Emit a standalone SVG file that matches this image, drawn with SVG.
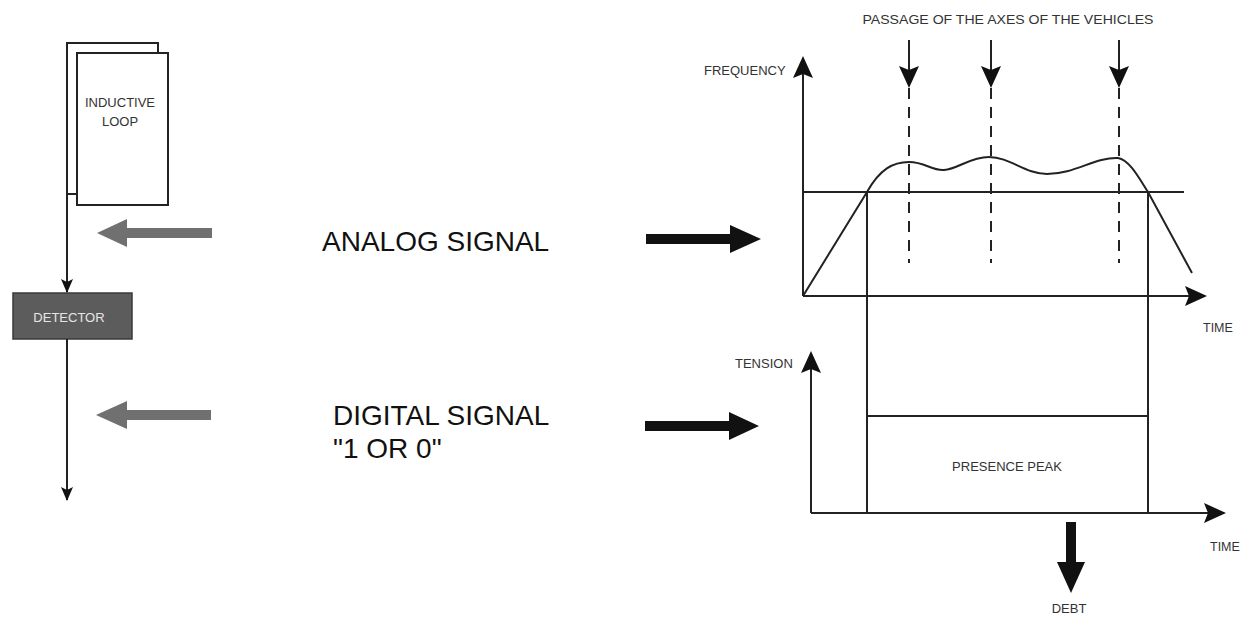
<svg xmlns="http://www.w3.org/2000/svg" width="1249" height="619" viewBox="0 0 1249 619">
<style>
  .ln{stroke:#222;stroke-width:2;fill:none}
  .dash{stroke:#222;stroke-width:2;fill:none;stroke-dasharray:11 8}
  .lbl{font-family:"Liberation Sans",Arial,sans-serif;fill:#333}
  .big{font-family:"Liberation Sans",Arial,sans-serif;fill:#111;font-size:28px}
  .gray{fill:#707070}
  .blk{fill:#111}
</style>
<defs>
  <marker id="ah" markerWidth="14" markerHeight="12" refX="13" refY="6" orient="auto" markerUnits="userSpaceOnUse" viewBox="0 0 14 12">
    <path d="M0,0 L14,6 L0,12 L3,6 Z" fill="#111"/>
  </marker>
  <marker id="axh" markerWidth="22" markerHeight="20" refX="20" refY="10" orient="auto" markerUnits="userSpaceOnUse" viewBox="0 0 22 20">
    <path d="M0,0 L22,10 L0,20 L4,10 Z" fill="#111"/>
  </marker>
</defs>

<g id="inductive-loop">
  <path class="ln" d="M67,194 L67,43 L158,43 L158,53"/>
  <line class="ln" x1="67" y1="194" x2="77" y2="194"/>
  <rect x="77" y="53" width="91" height="152" fill="#fff" stroke="#222" stroke-width="2"/>
  <text class="lbl" x="120" y="107" font-size="13" text-anchor="middle" fill="#555">INDUCTIVE</text>
  <text class="lbl" x="120" y="126" font-size="13" text-anchor="middle" fill="#555">LOOP</text>
</g>

<g id="detector">
  <rect x="13" y="293" width="119" height="46" fill="#5c5c5c" stroke="#3a3a3a" stroke-width="1.5"/>
  <text x="69" y="322" font-family="Liberation Sans,Arial,sans-serif" font-size="13" fill="#e6e6e6" text-anchor="middle">DETECTOR</text>
</g>

<g id="connectors">
  <line x1="67" y1="194" x2="67" y2="292" stroke="#222" stroke-width="2" marker-end="url(#ah)"/>
  <line x1="67" y1="339" x2="67" y2="500" stroke="#222" stroke-width="2" marker-end="url(#ah)"/>
  <polygon class="gray" points="212,228 127,228 127,219 97,233 127,247 127,238 212,238"/>
  <polygon class="gray" points="211,410 127,410 127,401 96,415 127,429 127,420 211,420"/>
  <polygon class="blk" points="646,234 730,234 730,225 761,239 730,253 730,244 646,244"/>
  <polygon class="blk" points="645,421 729,421 729,412 759,426 729,440 729,431 645,431"/>
  <polygon class="blk" points="1066,522 1076,522 1076,562 1085,562 1071,593 1057,562 1066,562"/>
</g>

<g id="labels">
  <text class="big" x="322" y="251">ANALOG SIGNAL</text>
  <text class="big" x="333" y="425">DIGITAL SIGNAL</text>
  <text class="big" x="333" y="458">"1 OR 0"</text>
</g>

<g id="frequency-chart">
  <text class="lbl" x="1008" y="24" font-size="13.5" text-anchor="middle" textLength="291" lengthAdjust="spacingAndGlyphs">PASSAGE OF THE AXES OF THE VEHICLES</text>
  <text class="lbl" x="704" y="75" font-size="13">FREQUENCY</text>
  <text class="lbl" x="1203" y="332" font-size="12.5">TIME</text>
  <line class="ln" x1="803" y1="296" x2="803" y2="58" marker-end="url(#axh)"/>
  <line class="ln" x1="803" y1="296" x2="1205" y2="296" marker-end="url(#axh)"/>
  <line class="ln" x1="803" y1="192" x2="1184" y2="192"/>
  <line class="ln" x1="909" y1="40" x2="909" y2="86" marker-end="url(#axh)"/>
  <line class="ln" x1="991" y1="40" x2="991" y2="86" marker-end="url(#axh)"/>
  <line class="ln" x1="1119" y1="40" x2="1119" y2="86" marker-end="url(#axh)"/>
  <line class="dash" x1="909" y1="88" x2="909" y2="263"/>
  <line class="dash" x1="991" y1="88" x2="991" y2="263"/>
  <line class="dash" x1="1119" y1="88" x2="1119" y2="263"/>
  <path class="ln" d="M803,296 L867,192 C880,169 893,162 909,162 C925,162 932,171 944,170 C958,169 970,157 989,157 C1010,157 1025,174 1047,174 C1075,174 1095,157 1118,158 C1130,160 1140,180 1148,192 L1192,273"/>
  <line class="ln" x1="867" y1="192" x2="867" y2="513"/>
  <line class="ln" x1="1148" y1="192" x2="1148" y2="513"/>
</g>

<g id="tension-chart">
  <text class="lbl" x="735" y="368" font-size="13">TENSION</text>
  <text class="lbl" x="1210" y="551" font-size="12.5">TIME</text>
  <text class="lbl" x="1069" y="613" font-size="13" text-anchor="middle">DEBT</text>
  <line class="ln" x1="811" y1="513" x2="811" y2="353" marker-end="url(#axh)"/>
  <line class="ln" x1="811" y1="513" x2="1224" y2="513" marker-end="url(#axh)"/>
  <line class="ln" x1="867" y1="416" x2="1148" y2="416"/>
  <text class="lbl" x="1007" y="471" font-size="13" text-anchor="middle">PRESENCE PEAK</text>
</g>
</svg>
